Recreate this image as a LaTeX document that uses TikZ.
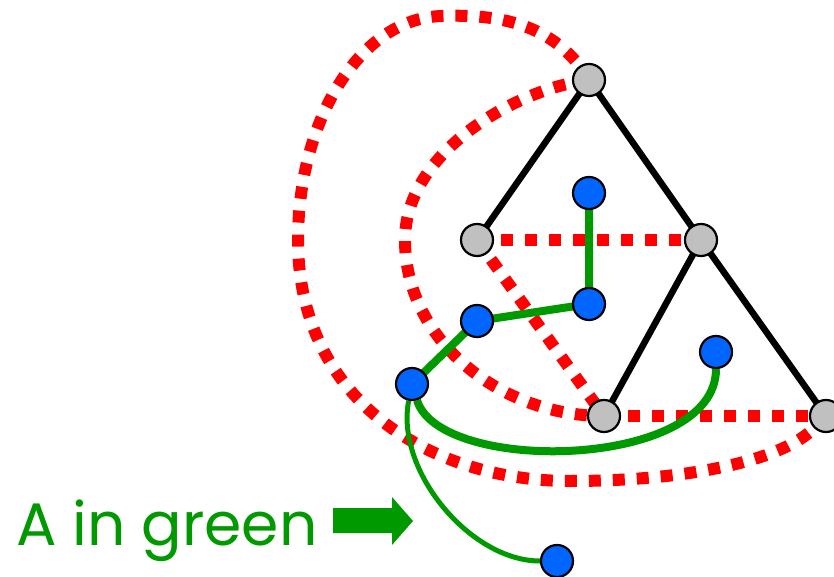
\documentclass[tikz,border=0pt]{standalone}
\usepackage{fontspec}
\usetikzlibrary{backgrounds}
\newfontfamily\handfont{Poppins}
\definecolor{ptgreen}{RGB}{0,153,0}
\definecolor{ptblue}{RGB}{0,102,255}
\definecolor{ptgray}{RGB}{192,192,192}
\begin{document}
\begin{tikzpicture}[x=1pt,y=-1pt,
  gnode/.style={circle,draw=black,line width=2.2pt,fill=ptgray,minimum size=32pt,inner sep=0pt},
  bnode/.style={gnode,fill=ptblue},
  treeline/.style={line width=6.5pt},
  reddot/.style={red,line width=12pt,dash pattern=on 12pt off 12pt},
  thick green/.style={ptgreen,line width=8pt},
  thin green/.style={ptgreen,line width=5pt}]
\useasboundingbox (0,0) rectangle (834,577);
% gray nodes
\foreach \n/\x/\y in {g1/589/80, g2/477/240, g3/701/240, g4/604/416, g5/826/416}
  \node[gnode] (\n) at (\x,\y) {};
% blue nodes
\foreach \n/\x/\y in {b1/589/193, b2/589/304, b3/477/321, b4/412/384, b5/716/352, b6/557/561}
  \node[bnode] (\n) at (\x,\y) {};
\begin{pgfonlayer}{background}
% red dotted
\draw[reddot] (g2.center) -- (g3.center);
\draw[reddot] (g2.center) -- (g4.center);
\draw[reddot] (g4.center) -- (g5.center);
\draw[reddot] (g1.center) .. controls (520,88) and (405,150) .. (405,240)
  .. controls (405,340) and (500,416) .. (g4.center);
\coordinate (rend) at (812,430);
\draw[reddot] (g1.center) .. controls (555,22) and (495,14) .. (442,16)
  .. controls (360,18) and (298,120) .. (298,240)
  .. controls (298,400) and (430,481) .. (570,481)
  .. controls (690,481) and (780,460) .. (rend);
% tree
\draw[treeline] (g2.center) -- (g1.center) -- (g3.center) -- (g4.center);
\draw[treeline] (g3.center) -- (g5.center);
% green
\draw[thick green] (b1.center) -- (b2.center) -- (b3.center) -- (b4.center);
\draw[thick green] (b4) .. controls (440,475) and (716,470) .. (b5);
\draw[thin green] (b4) .. controls (395,470) and (470,561) .. (b6);
\end{pgfonlayer}
% label
\node[anchor=base west,inner sep=0pt,text=ptgreen,font=\handfont\fontsize{60}{64}\selectfont]
  (lab) at (16,545) {A in green};
\fill[ptgreen] (333,508) -- (392,508) -- (392,497) -- (413,521) -- (392,545)
  -- (392,533) -- (333,533) -- cycle;
\end{tikzpicture}
\end{document}
